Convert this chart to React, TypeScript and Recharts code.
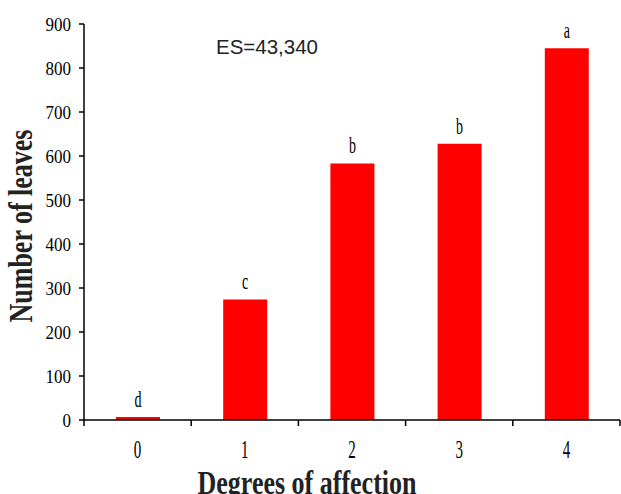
import { Bar, BarChart, LabelList, Label, XAxis, YAxis } from "recharts";

const degrees = ["0", "1", "2", "3", "4"];
const leaves = [7, 274, 583, 628, 845];
const letters = ["d", "c", "b", "b", "a"];
const yTicks = [0, 100, 200, 300, 400, 500, 600, 700, 800, 900];

const data = degrees.map((d, i) => ({ degree: d, leaves: leaves[i], letter: letters[i] }));

const SERIF = "'Liberation Serif', 'Times New Roman', serif";

function YTick({ x, y, payload }: any) {
  return (
    <text
      transform={`translate(${x},${y}) scale(1,1.1)`}
      textAnchor="end"
      dy="0.35em"
      fontSize={17}
      fontFamily={SERIF}
      fill="#000"
    >
      {payload.value}
    </text>
  );
}

// label at the band centre, tick marks at the band edges
function XTick({ x, y, payload, width, visibleTicksCount }: any) {
  const half = payload.offset > 0 ? payload.offset : width / visibleTicksCount / 2;
  const last = payload.index === visibleTicksCount - 1;
  return (
    <g>
      <line x1={x - half} x2={x - half} y1={y} y2={y + 6} stroke="#000" strokeWidth={1.5} />
      {last ? (
        <line x1={x + half} x2={x + half} y1={y} y2={y + 6} stroke="#000" strokeWidth={1.5} />
      ) : null}
      <text
        transform={`translate(${x},${y + 20}) scale(1,1.75)`}
        textAnchor="middle"
        y={10}
        fontSize={15}
        fontFamily={SERIF}
        fill="#000"
      >
        {payload.value}
      </text>
    </g>
  );
}

function LetterLabel({ x, y, width, value }: any) {
  return (
    <text
      transform={`translate(${x + width / 2},${y - 10}) scale(1,1.7)`}
      textAnchor="middle"
      fontSize={14}
      fontFamily={SERIF}
      fill="#000"
    >
      {value}
    </text>
  );
}

export default function App() {
  return (
    <div style={{ position: "absolute", left: 0, top: 0, background: "#fff" }}>
      <BarChart
        width={621}
        height={494}
        data={data}
        margin={{ top: 24, right: 1, bottom: 0, left: 0 }}
        barSize={44}
      >
        <XAxis
          dataKey="degree"
          height={74}
          axisLine={{ stroke: "#000", strokeWidth: 1.5 }}
          tickLine={false}
          tickSize={0}
          tickMargin={0}
          tick={<XTick />}
          interval={0}
        >
          <Label
            content={() => (
              <text
                transform="translate(307,494) scale(1,1.3)"
                textAnchor="middle"
                fontSize={26}
                fontWeight="bold"
                fontFamily={SERIF}
                fill="#222"
              >
                Degrees of affection
              </text>
            )}
          />
        </XAxis>
        <YAxis
          width={84}
          domain={[0, 900]}
          ticks={yTicks}
          tickSize={5}
          tickMargin={8}
          tick={<YTick />}
          axisLine={{ stroke: "#000", strokeWidth: 1.5 }}
          tickLine={{ stroke: "#000", strokeWidth: 1.5 }}
        >
          <Label
            content={({ viewBox }: any) => (
              <text
                transform={`translate(32,${viewBox.y + viewBox.height / 2 + 4}) rotate(-90) scale(1,1.33)`}
                textAnchor="middle"
                fontSize={26}
                fontWeight="bold"
                fontFamily={SERIF}
                fill="#222"
              >
                Number of leaves
              </text>
            )}
          />
        </YAxis>
        <Bar dataKey="leaves" fill="#ff0000" isAnimationActive={false}>
          <LabelList dataKey="letter" content={<LetterLabel />} />
        </Bar>
        <text
          x={216}
          y={54}
          fontSize={20.5}
          fontFamily="'Liberation Sans', Arial, sans-serif"
          fill="#222"
        >
          ES=43,340
        </text>
      </BarChart>
    </div>
  );
}
